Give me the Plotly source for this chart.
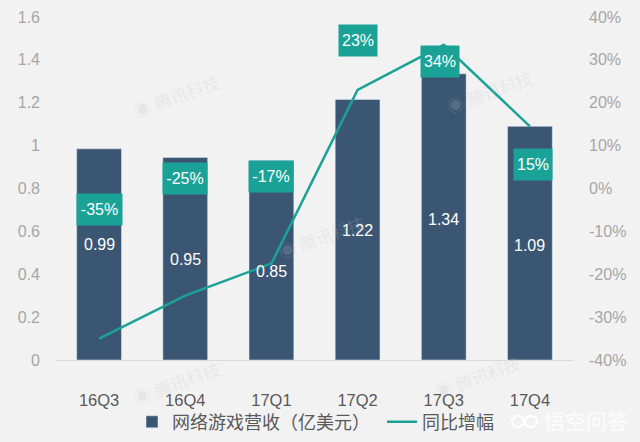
import plotly.graph_objects as go

W, H = 640, 442
L, R, T, B = 56, 67, 17, 82

quarters = ['16Q3', '16Q4', '17Q1', '17Q2', '17Q3', '17Q4']
bar_heights = [0.985, 0.945, 0.93, 1.215, 1.335, 1.09]
revenue_labels = ['0.99', '0.95', '0.85', '1.22', '1.34', '1.09']
growth = [-35, -25, -17.5, 23, 33.5, 14.5]
growth_labels = ['-35%', '-25%', '-17%', '23%', '34%', '15%']

bar_color = '#3b5672'
teal = '#1aa297'
cjk = 'Liberation Sans, Noto Sans CJK SC, sans-serif'

fig = go.Figure()
fig.add_trace(go.Bar(x=quarters, y=bar_heights, name='网络游戏营收（亿美元）', marker_color=bar_color, width=0.52))
fig.add_trace(go.Scatter(x=quarters, y=growth, name='同比增幅', mode='lines', yaxis='y2',
                         line=dict(color=teal, width=2.5)))

def paper_x(p):
    return (p - L) / (W - L - R)

def paper_y(p):
    return (H - B - p) / (H - B - T)

# labels inside the bars
rev_y = [244, 259, 271, 230, 219, 245]
for q, txt, p in zip(quarters, revenue_labels, rev_y):
    fig.add_annotation(x=q, xref='x', y=paper_y(p), yref='paper', yanchor='middle', text=txt, showarrow=False,
                       font=dict(color='white', size=16))

# teal boxes
box_y = [209, 179, 176, 40, 62, 164]
box_w = [45, 44, 44, 38, 38, 38]
box_shift = [0, 0, 0, 0, -4, 3]
for q, txt, p, w, s in zip(quarters, growth_labels, box_y, box_w, box_shift):
    fig.add_annotation(x=q, xref='x', xshift=s, y=paper_y(p), yref='paper', yanchor='middle', text=txt,
                       showarrow=False, font=dict(color='white', size=16), bgcolor=teal, width=w, height=31,
                       borderpad=0)

# watermarks
for x, y in [(177, 97), (177, 384), (322, 238), (490, 93), (478, 378)]:
    fig.add_annotation(x=paper_x(x), xref='paper', xanchor='center', y=paper_y(y), yref='paper', yanchor='middle',
                       text='◉ 腾讯科技', textangle=-20, showarrow=False,
                       font=dict(color='rgba(190,190,190,0.22)', size=17, family=cjk))

fig.add_annotation(x=paper_x(586), xref='paper', xanchor='center', y=paper_y(421), yref='paper', yanchor='middle',
                   text='悟空问答', showarrow=False, font=dict(color='rgba(255,255,255,0.9)', size=21, family=cjk))
for x0 in [512, 525]:
    fig.add_shape(type='circle', xref='paper', yref='paper',
                  x0=paper_x(x0), x1=paper_x(x0 + 12), y0=paper_y(427), y1=paper_y(416),
                  line=dict(color='white', width=2))

fig.update_layout(
    width=W, height=H, margin=dict(l=L, r=R, t=T, b=B, autoexpand=False),
    paper_bgcolor='#f2f2f2', plot_bgcolor='#f2f2f2', showlegend=True,
    font=dict(family=cjk, size=16),
    xaxis=dict(type='category', showgrid=False, zeroline=False, showline=True, linecolor='#d9d9d9', linewidth=1,
               ticks='', tickfont=dict(color='#595959', size=16.5), ticklabelstandoff=25),
    yaxis=dict(range=[0, 1.6], tickvals=[0, 0.2, 0.4, 0.6, 0.8, 1, 1.2, 1.4, 1.6],
               ticktext=['0', '0.2', '0.4', '0.6', '0.8', '1', '1.2', '1.4', '1.6'],
               showgrid=False, zeroline=False, tickfont=dict(color='#a6a6a6', size=16), ticklabelstandoff=15),
    yaxis2=dict(range=[-40, 40], overlaying='y', side='right', tickvals=list(range(-40, 41, 10)),
                ticktext=[f'{v}%' for v in range(-40, 41, 10)],
                showgrid=False, zeroline=False, tickfont=dict(color='#a6a6a6', size=16), ticklabelstandoff=15),
    legend=dict(orientation='h', x=paper_x(132), xanchor='left', y=-0.181, yanchor='middle', itemwidth=30,
                entrywidth=205, font=dict(color='#595959', size=18, family=cjk), bgcolor='rgba(0,0,0,0)'),
)

fig.write_html("out.html", post_script="document.body.style.margin='0';", config={'displayModeBar': False})
